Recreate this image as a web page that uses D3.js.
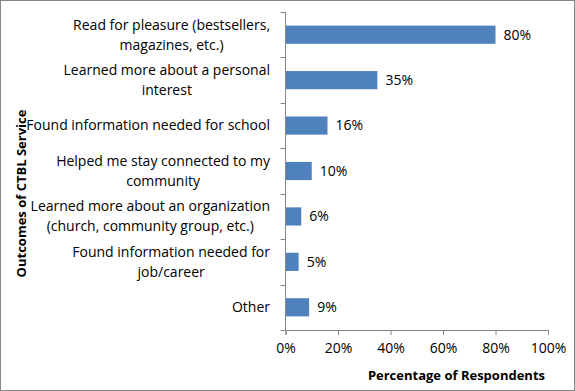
<!DOCTYPE html>
<html>
<head>
<meta charset="utf-8">
<script src="https://cdn.jsdelivr.net/npm/d3@7"></script>
<style>
  html, body { margin: 0; padding: 0; background: #fff; }
  svg { display: block; }
  text { font-family: "Open Sans", Lato, "Liberation Sans", sans-serif; fill: #000; }
</style>
</head>
<body>
<svg id="chart" width="575" height="391"></svg>
<script>
// ---- Data ----
const categories = [
  "Read for pleasure (bestsellers, magazines, etc.)",
  "Learned more about a personal interest",
  "Found information needed for school",
  "Helped me stay connected to my community",
  "Learned more about an organization (church, community group, etc.)",
  "Found information needed for job/career",
  "Other"
];
const categoryLines = [
  ["Read for pleasure (bestsellers,", "magazines, etc.)"],
  ["Learned more about a personal", "interest"],
  ["Found information needed for school"],
  ["Helped me stay connected to my", "community"],
  ["Learned more about an organization", "(church, community group, etc.)"],
  ["Found information needed for", "job/career"],
  ["Other"]
];
const values = [80, 35, 16, 10, 6, 5, 9];
const xTicks = [0, 20, 40, 60, 80, 100];
const xTitle = "Percentage of Respondents";
const yTitle = "Outcomes of CTBL Service";

// ---- Layout ----
const svg = d3.select("#chart");
const W = 575, H = 391;
const plot = { left: 285.5, right: 548, top: 12, bottom: 330 };
const fontSize = 14;
const titleSize = 13;

svg.append("rect")
  .attr("x", 0.5).attr("y", 0.5)
  .attr("width", W - 1).attr("height", H - 1)
  .attr("fill", "#fff").attr("stroke", "#868686").attr("stroke-width", 1);

const x = d3.scaleLinear().domain([0, 100]).range([plot.left, plot.right]);
const y = d3.scaleBand().domain(categories).range([plot.top, plot.bottom])
  .paddingInner(0.6).paddingOuter(0.3);
const step = y.step();

// bars
svg.append("g").selectAll("rect")
  .data(values)
  .join("rect")
  .attr("x", x(0))
  .attr("y", (d, i) => y(categories[i]))
  .attr("width", d => x(d) - x(0))
  .attr("height", y.bandwidth())
  .attr("fill", "#4F81BD");

// value labels
svg.append("g").selectAll("text")
  .data(values)
  .join("text")
  .attr("x", d => x(d) + 8)
  .attr("y", (d, i) => y(categories[i]) + y.bandwidth() / 2)
  .attr("dy", "0.35em")
  .attr("font-size", fontSize)
  .text(d => d + "%");

// y axis line + boundary ticks
const yAxisG = svg.append("g");
yAxisG.append("line")
  .attr("x1", plot.left).attr("x2", plot.left)
  .attr("y1", plot.top).attr("y2", plot.bottom)
  .attr("stroke", "#868686");
const boundaries = d3.range(categories.length + 1).map(i => plot.top + i * step);
yAxisG.selectAll("line.tick")
  .data(boundaries)
  .join("line")
  .attr("class", "tick")
  .attr("x1", plot.left - 5).attr("x2", plot.left)
  .attr("y1", d => Math.round(d) + 0.5).attr("y2", d => Math.round(d) + 0.5)
  .attr("stroke", "#868686");

// category labels
const lineH = 20;
const labG = svg.append("g");
categoryLines.forEach((lines, i) => {
  const cy = y(categories[i]) + y.bandwidth() / 2;
  const t = labG.append("text")
    .attr("text-anchor", "middle")
    .attr("font-size", fontSize);
  lines.forEach((ln, j) => {
    t.append("tspan")
      .attr("y", cy + (j - (lines.length - 1) / 2) * lineH)
      .attr("dy", "0.35em")
      .text(ln);
  });
  const nodes = t.selectAll("tspan").nodes();
  const maxW = d3.max(nodes, n => n.getComputedTextLength());
  t.selectAll("tspan").attr("x", 270 - maxW / 2);
});

// x axis
const xAxis = d3.axisBottom(x)
  .tickValues(xTicks)
  .tickSize(5)
  .tickPadding(8)
  .tickFormat(d => d + "%");
const xg = svg.append("g")
  .attr("transform", `translate(0,${plot.bottom})`)
  .call(xAxis);
xg.attr("font-family", null).attr("font-size", null);
xg.select(".domain").attr("stroke", "#868686");
xg.selectAll(".tick line").attr("stroke", "#868686");
xg.selectAll(".tick text")
  .attr("font-size", fontSize)
  .attr("fill", "#000");

// axis titles
svg.append("text")
  .attr("x", 545).attr("y", 375)
  .attr("dy", "0.35em")
  .attr("text-anchor", "end")
  .attr("font-size", titleSize)
  .attr("font-weight", "bold")
  .text(xTitle);

svg.append("text")
  .attr("transform", "translate(21.5,193.5) rotate(-90)")
  .attr("dy", "0.35em")
  .attr("text-anchor", "middle")
  .attr("font-size", titleSize)
  .attr("font-weight", "bold")
  .text(yTitle);
</script>
</body>
</html>
